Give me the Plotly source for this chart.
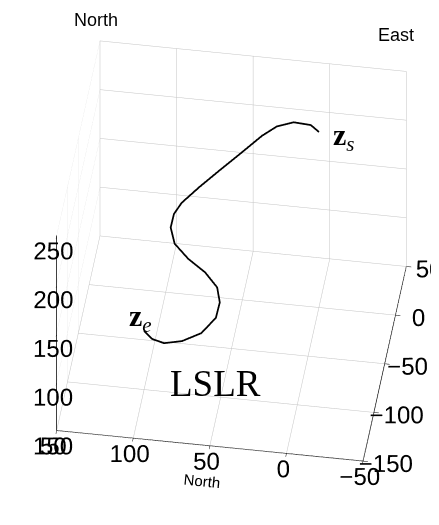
import plotly.graph_objects as go

# Path samples (North, East, altitude)
north = [0, 7, 19, 30, 39, 51, 62, 74, 84, 88, 89, 85, 75, 63, 54, 51, 52, 60, 72, 84, 93, 100]
east = [0, 12, 18, 18, 13, -1, -14, -28, -40, -47, -55, -65, -73, -80, -88, -97, -108, -119, -123, -121, -113, -100]
alt = [230, 224, 219, 213, 207, 201, 196, 190, 184, 179, 173, 167, 161, 156, 150, 144, 139, 133, 127, 121, 116, 110]

north_ticks = [-50, 0, 50, 100, 150]
east_ticks = [-150, -100, -50, 0, 50]
alt_ticks = [50, 100, 150, 200, 250]

start_label = "<b>z</b><sub><i>s</i></sub>"
end_label = "<b>z</b><sub><i>e</i></sub>"
path_label = "LSLR"

fig = go.Figure()
fig.add_trace(go.Scatter3d(
    x=north, y=east, z=alt, mode="lines",
    line=dict(color="black", width=3.5), showlegend=False, hoverinfo="skip"))

axis_common = dict(
    showbackground=False, gridcolor="#c4c4c4", gridwidth=1,
    showline=True, linecolor="black", linewidth=1.5,
    ticks="outside", ticklen=5, tickcolor="black", tickangle=0,
    zeroline=False, showspikes=False,
    tickfont=dict(family="Liberation Sans", size=17, color="black"),
)

fig.update_layout(
    width=439, height=525,
    margin=dict(l=0, r=0, t=0, b=0),
    paper_bgcolor="white",
    font=dict(family="Liberation Sans", color="black"),
    scene=dict(
        domain=dict(x=[0.018, 1], y=[0, 1]),
        xaxis=dict(range=[150, -50], tickvals=north_ticks,
                   title=dict(text="North", font=dict(size=15)), **axis_common),
        yaxis=dict(range=[-150, 50], tickvals=east_ticks, title=dict(text=""), **axis_common),
        zaxis=dict(range=[50, 250], tickvals=alt_ticks, title=dict(text=""), **axis_common),
        aspectmode="manual", aspectratio=dict(x=1.18, y=1.12, z=1.0),
        camera=dict(projection=dict(type="orthographic"),
                    center=dict(x=0, y=0, z=-0.1),
                    eye=dict(x=0.175, y=-1.175, z=0.97), up=dict(x=0, y=0, z=1)),
        annotations=[
            dict(x=north[0], y=east[0], z=alt[0], text=start_label, showarrow=False,
                 xshift=25, yshift=-5, font=dict(family="Liberation Serif", size=30)),
            dict(x=north[-1], y=east[-1], z=alt[-1], text=end_label, showarrow=False,
                 xshift=-4, yshift=13, font=dict(family="Liberation Serif", size=30)),
            dict(x=55, y=-90, z=50, text=path_label, showarrow=False, yshift=3,
                 font=dict(family="Liberation Serif", size=37)),
        ],
    ),
    annotations=[
        dict(x=0.2, y=0.977, xref="paper", yref="paper", xanchor="center", yanchor="middle",
             text="North", showarrow=False, font=dict(size=18)),
        dict(x=0.884, y=0.948, xref="paper", yref="paper", xanchor="center", yanchor="middle",
             text="East", showarrow=False, font=dict(size=18)),
    ],
)

fig.write_html("out.html")
